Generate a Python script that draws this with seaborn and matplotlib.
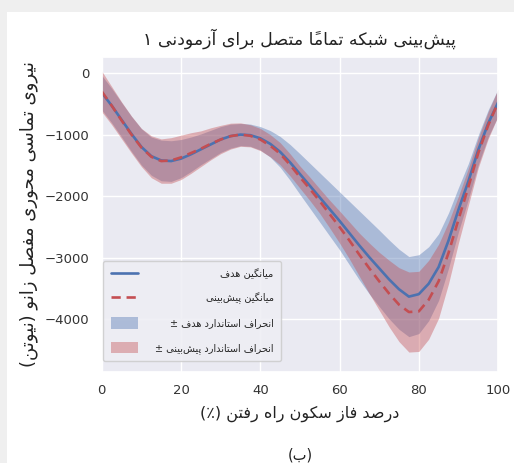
import numpy as np
import pandas as pd
import matplotlib
matplotlib.use("Agg")
import matplotlib.pyplot as plt
import seaborn as sns
from matplotlib.lines import Line2D
from matplotlib.patches import Patch, Rectangle

# ---------------- data ----------------
stance_pct = [0, 2.5, 5, 7.5, 10, 12.5, 15, 17.5, 20, 22.5, 25, 27.5, 30, 32.5, 35,
              37.5, 40, 42.5, 45, 47.5, 50, 52.5, 55, 57.5, 60, 62.5, 65, 67.5, 70,
              72.5, 75, 77.5, 80, 82.5, 85, 87.5, 90, 92.5, 95, 97.5, 100]
target_mean = [-320, -530, -760, -990, -1200, -1350, -1420, -1430, -1390, -1320,
               -1240, -1160, -1080, -1025, -1000, -1010, -1060, -1150, -1280, -1450,
               -1640, -1830, -2020, -2210, -2400, -2600, -2800, -2990, -3170, -3350,
               -3510, -3630, -3590, -3420, -3150, -2720, -2220, -1760, -1250, -820, -480]
target_std = [280, 280, 280, 285, 295, 310, 330, 330, 310, 280,
              250, 230, 210, 195, 180, 180, 190, 215, 250, 290,
              330, 365, 400, 435, 470, 515, 560, 595, 620, 640,
              650, 650, 640, 600, 540, 450, 360, 290, 240, 220, 220]
pred_mean = [-300, -530, -770, -1000, -1210, -1360, -1430, -1420, -1370, -1300,
             -1230, -1150, -1080, -1025, -1000, -1020, -1080, -1180, -1310, -1490,
             -1690, -1880, -2080, -2290, -2500, -2720, -2950, -3170, -3380, -3580,
             -3760, -3880, -3870, -3680, -3380, -2920, -2380, -1850, -1300, -850, -480]
pred_std = [330, 310, 300, 300, 310, 340, 360, 370, 360, 330,
            290, 260, 230, 210, 190, 180, 180, 180, 180, 180,
            180, 190, 200, 225, 260, 300, 350, 410, 470, 540,
            600, 650, 650, 640, 600, 500, 380, 300, 240, 220, 220]

x_ticks = [0, 20, 40, 60, 80, 100]
y_ticks = [0, -1000, -2000, -3000, -4000]

title_text = "پیش‌بینی شبکه تماماً متصل برای آزمودنی ۱"
xlabel_text = "درصد فاز سکون راه رفتن (٪)"
ylabel_text = "نیروی تماسی محوری مفصل زانو (نیوتن)"
caption_text = "(ب)"
legend_labels = ["میانگین هدف", "میانگین پیش‌بینی",
                 "انحراف استاندارد هدف", "انحراف استاندارد پیش‌بینی"]
pm_sign = "±"

# ---------------- minimal Persian shaping + RTL ordering ----------------
FORMS = {
    'ا': ('\uFE8D', '\uFE8E', None, None), 'آ': ('\uFE81', '\uFE82', None, None),
    'ب': ('\uFE8F', '\uFE90', '\uFE91', '\uFE92'), 'پ': ('\uFB56', '\uFB57', '\uFB58', '\uFB59'),
    'ت': ('\uFE95', '\uFE96', '\uFE97', '\uFE98'), 'ث': ('\uFE99', '\uFE9A', '\uFE9B', '\uFE9C'),
    'ج': ('\uFE9D', '\uFE9E', '\uFE9F', '\uFEA0'), 'چ': ('\uFB7A', '\uFB7B', '\uFB7C', '\uFB7D'),
    'ح': ('\uFEA1', '\uFEA2', '\uFEA3', '\uFEA4'), 'خ': ('\uFEA5', '\uFEA6', '\uFEA7', '\uFEA8'),
    'د': ('\uFEA9', '\uFEAA', None, None), 'ذ': ('\uFEAB', '\uFEAC', None, None),
    'ر': ('\uFEAD', '\uFEAE', None, None), 'ز': ('\uFEAF', '\uFEB0', None, None),
    'ژ': ('\uFB8A', '\uFB8B', None, None),
    'س': ('\uFEB1', '\uFEB2', '\uFEB3', '\uFEB4'), 'ش': ('\uFEB5', '\uFEB6', '\uFEB7', '\uFEB8'),
    'ص': ('\uFEB9', '\uFEBA', '\uFEBB', '\uFEBC'), 'ض': ('\uFEBD', '\uFEBE', '\uFEBF', '\uFEC0'),
    'ط': ('\uFEC1', '\uFEC2', '\uFEC3', '\uFEC4'), 'ظ': ('\uFEC5', '\uFEC6', '\uFEC7', '\uFEC8'),
    'ع': ('\uFEC9', '\uFECA', '\uFECB', '\uFECC'), 'غ': ('\uFECD', '\uFECE', '\uFECF', '\uFED0'),
    'ف': ('\uFED1', '\uFED2', '\uFED3', '\uFED4'), 'ق': ('\uFED5', '\uFED6', '\uFED7', '\uFED8'),
    'ک': ('\uFB8E', '\uFB8F', '\uFB90', '\uFB91'), 'گ': ('\uFB92', '\uFB93', '\uFB94', '\uFB95'),
    'ل': ('\uFEDD', '\uFEDE', '\uFEDF', '\uFEE0'), 'م': ('\uFEE1', '\uFEE2', '\uFEE3', '\uFEE4'),
    'ن': ('\uFEE5', '\uFEE6', '\uFEE7', '\uFEE8'), 'ه': ('\uFEE9', '\uFEEA', '\uFEEB', '\uFEEC'),
    'و': ('\uFEED', '\uFEEE', None, None), 'ی': ('\uFBFC', '\uFBFD', '\uFBFE', '\uFBFF'),
}
MARKS = set('\u064B\u064C\u064D\u064E\u064F\u0650\u0651\u0652')
MIRROR = {'(': ')', ')': '('}


def _jt(c):
    if c in MARKS:
        return 'T'
    if c in FORMS:
        return 'D' if FORMS[c][2] else 'R'
    return 'U'


def rtl(s):
    chars = list(s)
    n = len(chars)
    shaped = []
    for i, c in enumerate(chars):
        t = _jt(c)
        if t in ('D', 'R'):
            j = i - 1
            while j >= 0 and _jt(chars[j]) == 'T':
                j -= 1
            prev_j = j >= 0 and _jt(chars[j]) == 'D'
            k = i + 1
            while k < n and _jt(chars[k]) == 'T':
                k += 1
            next_j = t == 'D' and k < n and _jt(chars[k]) in ('D', 'R')
            iso, fin, ini, med = FORMS[c]
            if prev_j and next_j:
                g = med
            elif prev_j:
                g = fin
            elif next_j:
                g = ini
            else:
                g = iso
            shaped.append(g)
        elif c == '\u200c':
            shaped.append(None)
        else:
            shaped.append(MIRROR.get(c, c))
    clusters = []
    for orig, g in zip(chars, shaped):
        if g is None:
            continue
        if orig in MARKS and clusters:
            clusters[-1] += g
        else:
            clusters.append(g)
    return ''.join(reversed(clusters))


# ---------------- style ----------------
sns.set_theme(style="darkgrid")
plt.rcParams['font.family'] = ['DejaVu Sans']
plt.rcParams['axes.unicode_minus'] = True

blue = "#4C72B0"
red = "#C44E52"

df = pd.DataFrame({
    "pct": stance_pct,
    "target_mean": target_mean,
    "target_std": target_std,
    "pred_mean": pred_mean,
    "pred_std": pred_std,
})

fig = plt.figure(figsize=(5.14, 4.63), dpi=100)
fig.patch.set_facecolor("white")
# screenshot margins (light gray strips on top and left)
fig.patches.append(Rectangle((0, 1 - 12 / 463), 1, 12 / 463, transform=fig.transFigure,
                             facecolor="#efefef", edgecolor="none", zorder=-5))
fig.patches.append(Rectangle((0, 0), 7 / 514, 1, transform=fig.transFigure,
                             facecolor="#efefef", edgecolor="none", zorder=-5))

ax = fig.add_axes([0.198, 0.197, 0.771, 0.68])

dash = (0, (3.5, 2.2))
sns.lineplot(data=df, x="pct", y="target_mean", color=blue, lw=1.9, ax=ax)
sns.lineplot(data=df, x="pct", y="pred_mean", color=red, lw=1.9, ax=ax, linestyle=dash)

tm = df["target_mean"].to_numpy()
ts = df["target_std"].to_numpy()
pmn = df["pred_mean"].to_numpy()
ps = df["pred_std"].to_numpy()
ax.fill_between(df["pct"], tm - ts, tm + ts, color=blue, alpha=0.4, lw=0)
ax.fill_between(df["pct"], pmn - ps, pmn + ps, color=red, alpha=0.4, lw=0)

ax.set_xlim(0, 100)
ax.set_ylim(-4850, 260)
ax.set_xticks(x_ticks)
ax.set_yticks(y_ticks)
ax.tick_params(axis='both', labelsize=9.5, colors="#333333", pad=3)

ax.set_title(rtl(title_text), fontsize=12.5, pad=9, color="#222222")
ax.set_xlabel(rtl(xlabel_text), fontsize=11.5, labelpad=6, color="#222222")
ax.set_ylabel(rtl(ylabel_text), fontsize=13, labelpad=5, color="#222222")
fig.text(0.584, 0.018, rtl(caption_text), ha="center", va="center",
         fontsize=10.5, color="#222222")

handles = [
    Line2D([0], [0], color=blue, lw=1.9),
    Line2D([0], [0], color=red, lw=1.9, linestyle=dash),
    Patch(facecolor=blue, alpha=0.4, edgecolor="none"),
    Patch(facecolor=red, alpha=0.4, edgecolor="none"),
]
labels = [rtl(legend_labels[0]), rtl(legend_labels[1]),
          pm_sign + " " + rtl(legend_labels[2]), pm_sign + " " + rtl(legend_labels[3])]
leg = ax.legend(handles, labels, loc="lower left", bbox_to_anchor=(0.0, 0.03),
                fontsize=7.0, labelspacing=1.35, handlelength=2.8, handleheight=1.4,
                handletextpad=1.8, borderpad=0.75, frameon=True, framealpha=0.85,
                facecolor="#EEEEF4", edgecolor="#cccccc", borderaxespad=0.15)

# right-align the legend texts (RTL labels)
fig.canvas.draw()
renderer = fig.canvas.get_renderer()
texts = leg.get_texts()
widths = [t.get_window_extent(renderer).width for t in texts]
wmax = max(widths)
for t, w in zip(texts, widths):
    t.set_position((wmax - w, 0))

fig.savefig("out.png", dpi=100)
